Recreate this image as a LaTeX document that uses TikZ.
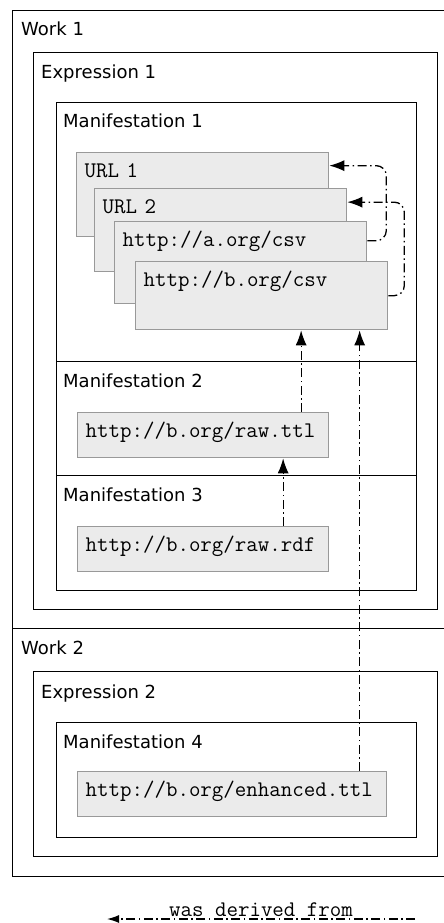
\documentclass[tikz,border=0pt]{standalone}
\usepackage{fontspec}
\newfontfamily\labelfont{DejaVu Sans}
\usetikzlibrary{arrows.meta,positioning}
\definecolor{boxgrey}{HTML}{EBEBEB}
\definecolor{edgegrey}{HTML}{999999}
\tikzset{
  frame/.style={draw=black, line width=1.3pt, anchor=north west, inner sep=0pt},
  caption/.style={font=\labelfont\fontsize{18}{20}\selectfont, anchor=base west, inner sep=0pt},
  mono/.style={font=\ttfamily\fontsize{22.3}{24}\selectfont},
  urlbox/.style={draw=edgegrey, fill=boxgrey, line width=1.3pt, anchor=north west, mono,
    text width=#1, align=left, inner xsep=8pt, inner ysep=8pt, text height=17pt},
  urlbox/.default=236pt,
  derived/.style={->, line width=1.3pt, rounded corners=10pt,
    dash pattern=on 9pt off 3.5pt on 1.5pt off 3.5pt}
}
\begin{document}
\begin{tikzpicture}[x=1pt,y=-1pt,>={Latex[length=15pt,width=11pt]}]
  \useasboundingbox (0,0) rectangle (444,923);
  \clip (0,0) rectangle (444,923);
  \node[frame, minimum width=448pt, minimum height=618pt] (work1) at (12,10) {};
  \node[caption] (work1t) at ([xshift=9pt,yshift=-26pt]work1.north west) {Work 1};
  \node[frame, minimum width=404pt, minimum height=557pt] (expr1) at (33,52) {};
  \node[caption] (expr1t) at ([xshift=8pt,yshift=-27pt]expr1.north west) {Expression 1};
  \node[frame, minimum width=360pt, minimum height=259pt] (man1) at (56,102) {};
  \node[caption] (man1t) at ([xshift=7pt,yshift=-26pt]man1.north west) {Manifestation 1};
  \node[frame, minimum width=360pt, minimum height=114pt] (man2) at (56,361) {};
  \node[caption] (man2t) at ([xshift=7pt,yshift=-26pt]man2.north west) {Manifestation 2};
  \node[frame, minimum width=360pt, minimum height=115pt] (man3) at (56,475) {};
  \node[caption] (man3t) at ([xshift=7pt,yshift=-26pt]man3.north west) {Manifestation 3};

  \node[frame, minimum width=448pt, minimum height=248pt] (work2) at (12,628) {};
  \node[caption] (work2t) at ([xshift=9pt,yshift=-26pt]work2.north west) {Work 2};
  \node[frame, minimum width=404pt, minimum height=185pt] (expr2) at (33,671) {};
  \node[caption] (expr2t) at ([xshift=8pt,yshift=-27pt]expr2.north west) {Expression 2};
  \node[frame, minimum width=360pt, minimum height=115pt] (man4) at (56,722) {};
  \node[caption] (man4t) at ([xshift=7pt,yshift=-26pt]man4.north west) {Manifestation 4};

  \node[urlbox, text depth=51pt] (url1) at (76,152) {URL 1};
  \node[urlbox, text depth=50pt] (url2) at (94,188) {URL 2};
  \node[urlbox, text depth=49pt] (csva) at (114,221) {http://a.org/csv};
  \node[urlbox, text depth=35pt] (csvb) at (135,261) {http://b.org/csv};
  \node[urlbox=235pt, text depth=12pt] (ttl) at (77,412) {http://b.org/raw.ttl};
  \node[urlbox=235pt, text depth=12pt] (rdf) at (77,526) {http://b.org/raw.rdf};
  \node[urlbox=293pt, text depth=12pt] (enh) at (77,771) {http://b.org/enhanced.ttl};

  \draw[derived] ([yshift=22pt]csva.east) -- ++(19,0) |- ([yshift=29pt]url1.east);
  \draw[derived] (csvb.east) -- ++(16,0) |- ([yshift=28pt]url2.east);
  \draw[derived] ([xshift=98pt]ttl.north) coordinate (ttlout) -- (ttlout |- csvb.south);
  \draw[derived] ([xshift=80pt]rdf.north) coordinate (rdfout) -- (rdfout |- ttl.south);
  \draw[derived] ([xshift=127.5pt]enh.north) coordinate (enhout) -- (enhout |- csvb.south);

  \coordinate (legR) at (415,919);
  \coordinate (legL) at (107,919);
  \draw[derived, >={Latex[length=12pt,width=8pt]}] (legR) -- node[above=2pt, inner sep=0pt, mono] (legtext) {was derived from} (legL);
\end{tikzpicture}
\end{document}
